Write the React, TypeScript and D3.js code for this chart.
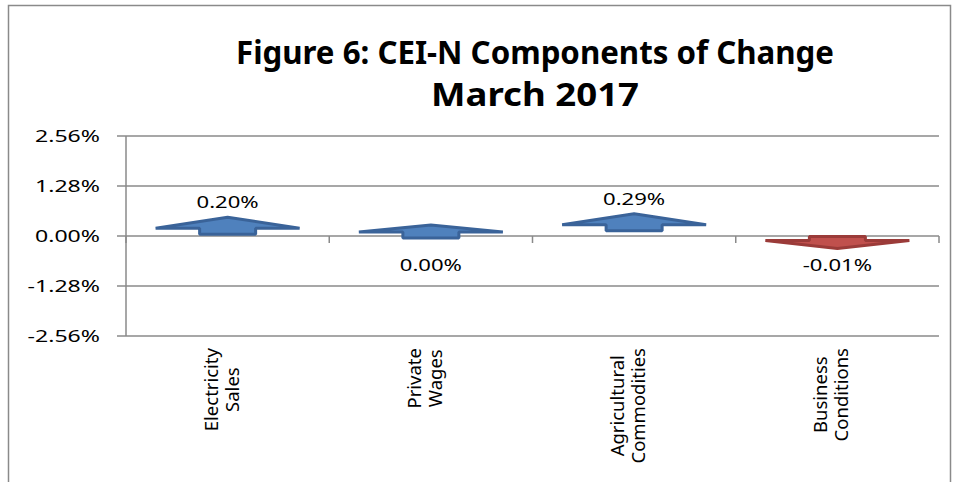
import React, { useEffect, useRef } from "react";
import * as d3 from "d3";

const categories = ["Electricity\nSales", "Private\nWages", "Agricultural\nCommodities", "Business\nConditions"];
const values = [0.2, 0.0, 0.29, -0.01];
const valueLabels = ["0.20%", "0.00%", "0.29%", "-0.01%"];
const yTicks = [-2.56, -1.28, 0, 1.28, 2.56];
const yTickLabels = ["-2.56%", "-1.28%", "0.00%", "1.28%", "2.56%"];
const titleLines = ["Figure 6: CEI-N Components of Change", "March 2017"];

const FONT = "'Noto Sans', 'Open Sans', sans-serif";

export default function App() {
  const ref = useRef<SVGSVGElement>(null);
  useEffect(() => {
    const svg = d3.select(ref.current);
    svg.selectAll("*").remove();
    const m = { left: 126, right: 939, top: 136, bottom: 336 };
    const x = d3.scaleBand<string>().domain(categories).range([m.left, m.right]).padding(0);
    const y = d3.scaleLinear().domain([-2.56, 2.56]).range([m.bottom, m.top]);
    const bw = x.bandwidth();

    svg.append("rect").attr("x", 8.5).attr("y", 5.5).attr("width", 942).attr("height", 520)
      .attr("fill", "#fff").attr("stroke", "#8a8a8a").attr("stroke-width", 1.5);

    // title
    const tw = [598, 208];
    const tb = [64, 106];
    titleLines.forEach((t, i) => {
      svg.append("text").attr("x", 535).attr("y", tb[i]).attr("text-anchor", "middle")
        .attr("font-family", FONT).attr("font-weight", "bold").attr("font-size", 32)
        .attr("textLength", tw[i]).attr("lengthAdjust", "spacingAndGlyphs")
        .attr("fill", "#000").text(t);
    });

    // gridlines + y ticks
    yTicks.forEach((t, i) => {
      svg.append("line").attr("x1", m.left - 9).attr("x2", m.right).attr("y1", y(t)).attr("y2", y(t))
        .attr("stroke", "#8a8a8a").attr("stroke-width", 1.5);
      svg.append("text").attr("transform", `translate(100,${y(t) + 6}) scale(1.4,1)`)
        .attr("text-anchor", "end").attr("font-family", FONT).attr("font-size", 16.5)
        .attr("fill", "#000").text(yTickLabels[i]);
    });
    svg.append("line").attr("x1", m.left).attr("x2", m.left).attr("y1", m.top).attr("y2", m.bottom)
      .attr("stroke", "#8a8a8a").attr("stroke-width", 1.5);

    // category axis ticks at zero
    const bounds = categories.map((c) => x(c)!).concat([m.right]);
    bounds.forEach((b) => {
      svg.append("line").attr("x1", b).attr("x2", b).attr("y1", y(0)).attr("y2", y(0) + 7)
        .attr("stroke", "#8a8a8a").attr("stroke-width", 1.5);
    });

    // arrows
    const headHW = 72, shaftHW = 28;
    categories.forEach((c, i) => {
      const v = values[i];
      const cx = x(c)! + bw / 2;
      let pts: [number, number][];
      let fill: string, stroke: string;
      if (v >= 0) {
        const tip = y(v) - 11;
        const bottom = Math.min(y(v) + 6, y(0) + 2);
        const base = bottom - 6;
        pts = [[cx, tip], [cx + headHW, base], [cx + shaftHW, base], [cx + shaftHW, bottom],
          [cx - shaftHW, bottom], [cx - shaftHW, base], [cx - headHW, base]];
        fill = "#4F81BD"; stroke = "#3A6399";
      } else {
        const tip = y(v) + 12;
        const top = Math.max(y(v) - 6, y(0) + 0.5);
        const base = top + 4;
        pts = [[cx, tip], [cx + headHW, base], [cx + shaftHW, base], [cx + shaftHW, top],
          [cx - shaftHW, top], [cx - shaftHW, base], [cx - headHW, base]];
        fill = "#C0504D"; stroke = "#9B3B39";
      }
      svg.append("path").attr("d", d3.line()(pts)! + "Z").attr("fill", fill).attr("stroke", stroke)
        .attr("stroke-width", 3).attr("stroke-linejoin", "bevel");

      const ly = v > 0 ? y(v) - 20 : y(v) + 35;
      svg.append("text").attr("transform", `translate(${cx},${ly}) scale(1.3,1)`)
        .attr("text-anchor", "middle").attr("font-family", FONT).attr("font-size", 17)
        .attr("fill", "#000").text(valueLabels[i]);
    });

    // category labels (rotated)
    const topY = 348;
    const lineOff = [-10, 11];
    categories.forEach((c) => {
      const cx = x(c)! + bw / 2;
      const lines = c.split("\n");
      const g = svg.append("g");
      const nodes = lines.map((ln) =>
        g.append("text").attr("font-family", FONT).attr("font-size", 18.5).attr("text-anchor", "middle")
          .attr("fill", "#000").text(ln));
      const maxLen = d3.max(nodes, (n) => (n.node() as SVGTextElement).getComputedTextLength()) || 0;
      nodes.forEach((n, j) => {
        n.attr("transform", `translate(${cx + lineOff[j]},${topY + maxLen / 2}) scale(0.95,1) rotate(-90)`);
      });
    });
  }, []);
  return (
    <div style={{ position: "absolute", left: 0, top: 0 }}>
      <svg ref={ref} width={959} height={482} style={{ display: "block" }} />
    </div>
  );
}
